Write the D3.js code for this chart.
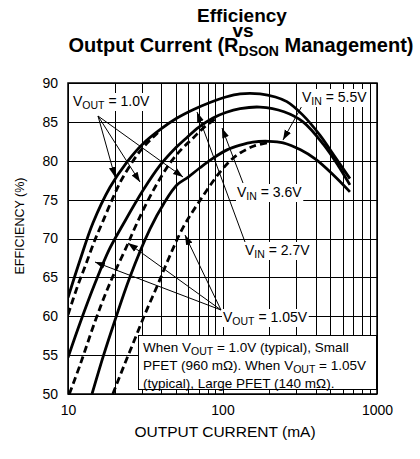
<!DOCTYPE html>
<html><head><meta charset="utf-8">
<script src="https://cdn.jsdelivr.net/npm/d3@7"></script>
<style>
html,body{margin:0;padding:0;background:#fff;}
svg{display:block;font-family:"Liberation Sans",Arial,sans-serif;}
</style></head>
<body>
<svg id="c" width="420" height="459"></svg>
<script>
// ---- data (current in mA, efficiency in %) ----
const yTicks = [50,55,60,65,70,75,80,85,90];
const xTickLabels = [10,100,1000];
const xGrid = [10,20,30,40,50,60,70,80,90,100,200,300,400,500,600,700,800,900,1000];

const vin27_10_I = [10,12,14.5,18.7,24,30.6,40,50.8,65,83,105,130,175,220,261,330,427,530,668];
const vin27_10_E = [62.4,67.3,72.0,76.6,79.8,82.2,84.1,85.5,86.6,87.5,88.2,88.6,88.6,88.2,87.6,85.9,83.3,80.6,77.7];
const vin36_10_I = [10,12,15,18.5,22.7,30.6,39.4,50,58.9,70,86.9,105,130,175,250,332,450,560,668];
const vin36_10_E = [54.7,59.2,64.3,68.6,71.8,76.2,79.4,81.7,83.0,84.3,85.5,86.2,86.7,86.9,86.3,85.0,82.1,79.4,76.9];
const vin55_10_I = [14.3,17,20,25,33.9,42,50.8,60,71.5,88,107,130,157,200,247,320,400,520,668];
const vin55_10_E = [50.0,55.0,59.3,64.9,71.2,74.6,76.9,77.9,79.1,80.4,81.4,82.0,82.4,82.5,82.3,81.4,80.2,78.2,76.0];
const vin27_105_I = [10,11.5,13,15,16.9,19.5,22,26,30,35,40];
const vin27_105_E = [60.2,63.8,66.6,69.9,72.3,75.2,77.4,79.8,81.5,82.9,84.0];
const vin36_105_I = [10.2,12,15,17.5,20,24,28,35,45.7,55,64.4,75,90];
const vin36_105_E = [50.0,53.8,59.4,62.9,65.6,69.0,72.0,75.9,79.7,81.6,82.9,84.2,85.4];
const vin55_105_I = [19.5,23,27,32,38,45,55.5,71.5,96,115,130,160,194];
const vin55_105_E = [50.0,53.6,57.0,60.6,64.0,67.5,71.4,74.9,78.5,80.2,81.0,81.9,82.3];

const title1 = "Efficiency";
const title2 = "vs";
const xTitle = "OUTPUT CURRENT (mA)";
const yTitle = "EFFICIENCY (%)";
const noteLines = [
  [["When V",""],["OUT","sub"],[" = 1.0V (typical), Small",""]],
  [["PFET (960 m\u03A9). When V",""],["OUT","sub"],[" = 1.05V",""]],
  [["(typical), Large PFET (140 m\u03A9).",""]]
];

// ---- drawing ----
const svg = d3.select("#c");
const L=68, R=377, T=83, B=394;
const x = d3.scaleLog().domain([10,1000]).range([L,R]);
const y = d3.scaleLinear().domain([50,90]).range([B,T]);

// title
const tg = svg.append("g").attr("font-weight","bold").attr("font-size",19).attr("text-anchor","middle").attr("fill","#000");
tg.append("text").attr("x",242).attr("y",22).text(title1);
tg.append("text").attr("x",243).attr("y",36.5).text(title2);
const t3 = tg.append("text").attr("x",241).attr("y",52).attr("font-size",20);
t3.append("tspan").text("Output Current (R");
t3.append("tspan").attr("font-size",14).attr("dy",4).text("DSON");
t3.append("tspan").attr("dy",-4).text(" Management)");

// grid
const grid = svg.append("g").attr("stroke","#000").attr("stroke-width",1).attr("shape-rendering","crispEdges");
grid.selectAll("line.h").data(yTicks).join("line").attr("class","h")
  .attr("x1",L).attr("x2",R).attr("y1",d=>Math.round(y(d))+0.5).attr("y2",d=>Math.round(y(d))+0.5);
grid.selectAll("line.v").data(xGrid).join("line").attr("class","v")
  .attr("y1",T).attr("y2",B).attr("x1",d=>Math.round(x(d))+0.5).attr("x2",d=>Math.round(x(d))+0.5);

// axes labels
const yAxis = d3.axisLeft(y).tickValues(yTicks).tickSize(0).tickPadding(10);
const ya = svg.append("g").attr("transform",`translate(${L},0)`).call(yAxis);
ya.select(".domain").remove();
ya.selectAll("text").attr("font-size",14).attr("font-family","Liberation Sans, Arial, sans-serif").attr("fill","#000");
const xAxis = d3.axisBottom(x).tickValues(xTickLabels).tickFormat(d3.format("d")).tickSize(0).tickPadding(11);
const xa = svg.append("g").attr("transform",`translate(0,${B})`).call(xAxis);
xa.select(".domain").remove();
xa.selectAll("text").attr("font-size",14).attr("font-family","Liberation Sans, Arial, sans-serif").attr("fill","#000");

svg.append("text").attr("x",225).attr("y",437).attr("text-anchor","middle").attr("font-size",15.5).text(xTitle);
svg.append("text").attr("transform","translate(24,226) rotate(-90)").attr("text-anchor","middle").attr("font-size",12.5).text(yTitle);

// clip
svg.append("clipPath").attr("id","clip").append("rect").attr("x",L).attr("y",T).attr("width",R-L).attr("height",B-T);

const line = d3.line().x(d=>x(d[0])).y(d=>y(d[1])).curve(d3.curveCatmullRom.alpha(0.5));
const series = [
  {I:vin27_10_I,E:vin27_10_E,dash:null},
  {I:vin36_10_I,E:vin36_10_E,dash:null},
  {I:vin55_10_I,E:vin55_10_E,dash:null},
  {I:vin27_105_I,E:vin27_105_E,dash:"7,4"},
  {I:vin36_105_I,E:vin36_105_E,dash:"7,4"},
  {I:vin55_105_I,E:vin55_105_E,dash:"7,4"}
];
const cg = svg.append("g").attr("clip-path","url(#clip)");
series.forEach(s=>{
  cg.append("path").datum(s.I.map((v,i)=>[v,s.E[i]]))
    .attr("d",line).attr("fill","none").attr("stroke","#000").attr("stroke-width",2.8)
    .attr("stroke-dasharray",s.dash);
});

// arrows
svg.append("defs").append("marker").attr("id","ah").attr("viewBox","0 0 10 10")
  .attr("refX",10).attr("refY",5).attr("markerWidth",10).attr("markerHeight",10)
  .attr("markerUnits","userSpaceOnUse").attr("orient","auto")
  .append("path").attr("d","M0,1.5 L10,5 L0,8.5 Z").attr("fill","#000");
const arrows = [
  [[98,116],[115,177]],[[98,116],[140,182]],[[98,116],[183,177]],
  [[303,104],[283,140]],
  [[243,183],[222,128]],
  [[245,242],[197,112]],
  [[221,310],[95,262]],[[221,310],[128,243]],[[221,310],[185,235]]
];
svg.append("g").selectAll("line").data(arrows).join("line")
  .attr("x1",d=>d[0][0]).attr("y1",d=>d[0][1]).attr("x2",d=>d[1][0]).attr("y2",d=>d[1][1])
  .attr("stroke","#000").attr("stroke-width",1).attr("marker-end","url(#ah)");

// labels with white background
function label(xp, yp, parts, fs){
  const g = svg.append("g");
  const t = g.append("text").attr("x",xp).attr("y",yp).attr("font-size",fs);
  let shifted=false;
  parts.forEach(p=>{
    const ts = t.append("tspan").text(p[0]);
    if(p[1]==="sub"){ ts.attr("font-size",fs*0.75).attr("dy",3); shifted=true; }
    else if(shifted){ ts.attr("dy",-3); shifted=false; }
  });
  const bb = t.node().getBBox();
  g.insert("rect","text").attr("x",bb.x-1).attr("y",bb.y).attr("width",bb.width+2).attr("height",bb.height).attr("fill","#fff");
  return g;
}
label(73,106,[["V",""],["OUT","sub"],[" = 1.0V",""]],14);
label(302,102,[["V",""],["IN","sub"],[" = 5.5V",""]],14);
label(237,197,[["V",""],["IN","sub"],[" = 3.6V",""]],14);
label(245,255,[["V",""],["IN","sub"],[" = 2.7V",""]],14);
label(223,322,[["V",""],["OUT","sub"],[" = 1.05V",""]],14);

// note box
svg.append("rect").attr("x",138.5).attr("y",335.5).attr("width",238).attr("height",54)
  .attr("fill","#fff").attr("stroke","#000").attr("stroke-width",1);
noteLines.forEach((ln,i)=>{
  const t = svg.append("text").attr("x",143).attr("y",352+i*18).attr("font-size",13.5);
  let shifted=false;
  ln.forEach(p=>{
    const ts=t.append("tspan").text(p[0]);
    if(p[1]==="sub"){ ts.attr("font-size",10.5).attr("dy",3); shifted=true; }
    else if(shifted){ ts.attr("dy",-3); shifted=false; }
  });
});

// frame
svg.append("rect").attr("x",L).attr("y",T).attr("width",R-L).attr("height",B-T)
  .attr("fill","none").attr("stroke","#000").attr("stroke-width",1.5);
</script>
</body></html>
